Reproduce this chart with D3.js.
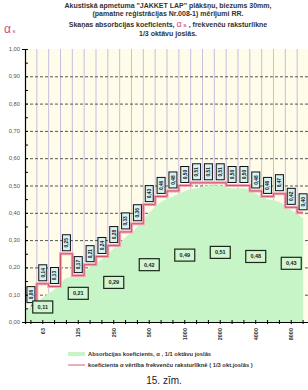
<!DOCTYPE html>
<html>
<head>
<meta charset="utf-8">
<script src="https://cdn.jsdelivr.net/npm/d3@7"></script>
<style>
  body { margin: 0; background: #fff; }
  svg { display: block; font-family: "Liberation Sans", Arial, sans-serif; }
</style>
</head>
<body>
<svg id="chart" width="308" height="390"></svg>
<script>
// 1/3 octave bands, Hz
var bands = ["50", "63", "80", "100", "125", "160", "200", "250", "315", "400", "500", "630",
             "800", "1000", "1250", "1600", "2000", "2500", "3150", "4000", "5000", "6300", "8000", "10000"];
// alpha per 1/3 octave (pink line + small boxes)
var thirdValues = [0.06, 0.14, 0.13, 0.25, 0.17, 0.21, 0.24, 0.28, 0.33, 0.36, 0.43, 0.46,
                   0.48, 0.50, 0.51, 0.51, 0.51, 0.50, 0.50, 0.48, 0.46, 0.47, 0.42, 0.40];
// green area top
var areaValues = [0.04, 0.09, 0.12, 0.16, 0.17, 0.20, 0.23, 0.27, 0.31, 0.35, 0.40, 0.44,
                  0.46, 0.48, 0.49, 0.50, 0.50, 0.49, 0.49, 0.47, 0.45, 0.44, 0.41, 0.38];
// octave bands and their alpha
var octaveBands = ["63", "125", "250", "500", "1000", "2000", "4000", "8000"];
var octaveValues = [0.11, 0.21, 0.29, 0.42, 0.49, 0.51, 0.48, 0.43];
var yTicks = [0, 0.1, 0.2, 0.3, 0.4, 0.5, 0.6, 0.7, 0.8, 0.9, 1.0];

var titleLines = [
    "Akustiskā apmetuma \"JAKKET LAP\" plākšņu, biezums 30mm,",
    "(pamatne reģistrācijas Nr.008-1) mērījumi RR."
];

var comma = function (v) { return d3.format(".2f")(v).replace(".", ","); };

var svg = d3.select("#chart");

var margin = {top: 49, left: 25},
    plotW = 284,
    plotH = 273;

var x = d3.scaleBand().domain(bands).range([margin.left, margin.left + plotW]);
var y = d3.scaleLinear().domain([0, 1]).range([margin.top + plotH, margin.top]);
var cx = function (b) { return x(b) + x.bandwidth() / 2; };

// titles
svg.selectAll(".title")
    .data(titleLines)
    .enter().append("text")
    .attr("x", 168)
    .attr("y", function (d, i) { return 8 + i * 8; })
    .attr("text-anchor", "middle")
    .attr("font-size", 7)
    .attr("font-weight", "bold")
    .attr("fill", "#333")
    .text(function (d) { return d; });

var t3 = svg.append("text")
    .attr("x", 168).attr("y", 27)
    .attr("text-anchor", "middle")
    .attr("font-size", 7)
    .attr("font-weight", "bold")
    .attr("fill", "#333");
t3.append("tspan").text("Skaņas absorbcijas koeficients,  ");
t3.append("tspan").attr("fill", "#d0508a").attr("font-size", 9).attr("font-weight", "normal").text("α");
t3.append("tspan").attr("fill", "#d0508a").attr("font-size", 6).text(" s");
t3.append("tspan").text(" , frekvenču raksturlīkne");

svg.append("text")
    .attr("x", 168).attr("y", 36)
    .attr("text-anchor", "middle")
    .attr("font-size", 7)
    .attr("font-weight", "bold")
    .attr("fill", "#333")
    .text("1/3 oktāvu joslās.");

var sig = svg.append("text").attr("x", 4).attr("y", 33).attr("fill", "#d0508a");
sig.append("tspan").attr("font-size", 12).text("α");
sig.append("tspan").attr("font-size", 6).text(" s");

// plot background
svg.append("rect")
    .attr("x", margin.left).attr("y", margin.top)
    .attr("width", plotW).attr("height", plotH)
    .attr("fill", "#fffcea");

// vertical grid
var g = svg.append("g");
g.selectAll(".vgrid")
    .data(bands)
    .enter().append("line")
    .attr("x1", function (d) { return x(d) + x.bandwidth(); })
    .attr("x2", function (d) { return x(d) + x.bandwidth(); })
    .attr("y1", margin.top).attr("y2", margin.top + plotH)
    .attr("stroke", "#c9bde0")
    .attr("stroke-width", 1);

// horizontal dashed grid
g.selectAll(".hgrid")
    .data(yTicks.slice(1, -1))
    .enter().append("line")
    .attr("x1", margin.left).attr("x2", margin.left + plotW)
    .attr("y1", function (d) { return y(d) + 0.5; })
    .attr("y2", function (d) { return y(d) + 0.5; })
    .attr("stroke", "#555")
    .attr("stroke-width", 1)
    .attr("stroke-dasharray", "3,2");

// green area
g.append("path")
    .datum(areaValues)
    .attr("d", d3.area()
        .x(function (d, i) { return i === 0 ? margin.left : cx(bands[i]); })
        .y0(y(0))
        .y1(function (d) { return y(d); })
        .curve(d3.curveMonotoneX))
    .attr("fill", "#c8f5c8");

// pink line
var line = d3.line()
    .x(function (d, i) { return cx(bands[i]); })
    .y(function (d) { return y(d); })
    .curve(d3.curveStep);

g.append("path")
    .datum(thirdValues)
    .attr("d", line)
    .attr("fill", "none")
    .attr("stroke", "#f2a8b8")
    .attr("stroke-width", 3);
g.append("path")
    .datum(thirdValues)
    .attr("d", line)
    .attr("fill", "none")
    .attr("stroke", "#c8405a")
    .attr("stroke-width", 0.8);

// 1/3 octave boxes
var boxes = g.selectAll(".tbox")
    .data(thirdValues)
    .enter().append("g")
    .attr("transform", function (d, i) {
        return "translate(" + cx(bands[i]) + "," + (y(d) - 3) + ")";
    });
boxes.append("rect")
    .attr("x", -4).attr("y", -16)
    .attr("width", 8).attr("height", 16)
    .attr("fill", "#d6f2f4")
    .attr("stroke", "#111")
    .attr("stroke-width", 1);
boxes.append("text")
    .attr("transform", "translate(1.8,-8) rotate(-90)")
    .attr("text-anchor", "middle")
    .attr("font-size", 4.8)
    .attr("font-weight", "bold")
    .attr("fill", "#222")
    .text(function (d) { return comma(d); });

// octave boxes
var obox = g.selectAll(".obox")
    .data(octaveValues)
    .enter().append("g")
    .attr("transform", function (d, i) {
        return "translate(" + cx(octaveBands[i]) + "," + y(d / 2) + ")";
    });
obox.append("rect")
    .attr("x", -10).attr("y", -6)
    .attr("width", 20).attr("height", 12)
    .attr("fill", "#d2f6d0")
    .attr("stroke", "#1a2a1a")
    .attr("stroke-width", 1.2);
obox.append("text")
    .attr("y", 2)
    .attr("text-anchor", "middle")
    .attr("font-size", 5.5)
    .attr("font-weight", "bold")
    .attr("fill", "#222")
    .text(function (d) { return comma(d); });

// y axis
svg.append("g")
    .attr("transform", "translate(" + margin.left + ",0)")
    .call(d3.axisLeft(y).tickValues(d3.range(0, 1.001, 0.05)).tickSize(3).tickFormat(""))
    .call(function (s) {
        s.select(".domain").attr("stroke", "#000").attr("stroke-width", 1.2);
        s.selectAll(".tick line").attr("stroke", "#000").attr("x2", 3);
    });

svg.selectAll(".ylab")
    .data(yTicks)
    .enter().append("text")
    .attr("x", margin.left - 5)
    .attr("y", function (d) { return y(d) + 2; })
    .attr("text-anchor", "end")
    .attr("font-size", 5.8)
    .attr("fill", "#555")
    .text(function (d) { return comma(d); });

// x axis
svg.append("g")
    .attr("transform", "translate(0," + (margin.top + plotH) + ")")
    .call(d3.axisBottom(x).tickSize(2).tickFormat(""))
    .call(function (s) {
        s.select(".domain").attr("stroke", "#000").attr("stroke-width", 1.2);
        s.selectAll(".tick line").attr("stroke", "#000").attr("y1", -2);
    });

svg.selectAll(".xlab")
    .data(octaveBands)
    .enter().append("text")
    .attr("transform", function (d) {
        return "translate(" + (cx(d) + 2) + "," + (margin.top + plotH + 6) + ") rotate(-90)";
    })
    .attr("text-anchor", "end")
    .attr("font-size", 5.5)
    .attr("font-weight", "bold")
    .attr("fill", "#333")
    .text(function (d) { return d; });

// legend
var lg = svg.append("g").attr("transform", "translate(68,354)");
lg.append("rect").attr("x", 0).attr("y", -2).attr("width", 17).attr("height", 4).attr("fill", "#c8f5c8");
lg.append("text").attr("x", 20).attr("y", 2).attr("font-size", 5.8).attr("font-weight", "bold").attr("fill", "#333")
    .text("Absorbcijas koeficients, α , 1/1 oktāvu joslās");
lg.append("line").attr("x1", 0).attr("x2", 17).attr("y1", 11).attr("y2", 11)
    .attr("stroke", "#e690a8").attr("stroke-width", 1.5);
lg.append("text").attr("x", 20).attr("y", 13).attr("font-size", 5.8).attr("font-weight", "bold").attr("fill", "#333")
    .text("koeficienta α vērtība frekvenču raksturlīknē ( 1/3 okt.joslās )");

svg.append("text")
    .attr("x", 164).attr("y", 384)
    .attr("text-anchor", "middle")
    .attr("font-size", 10)
    .attr("fill", "#222")
    .text("15. zīm.");
</script>
</body>
</html>
